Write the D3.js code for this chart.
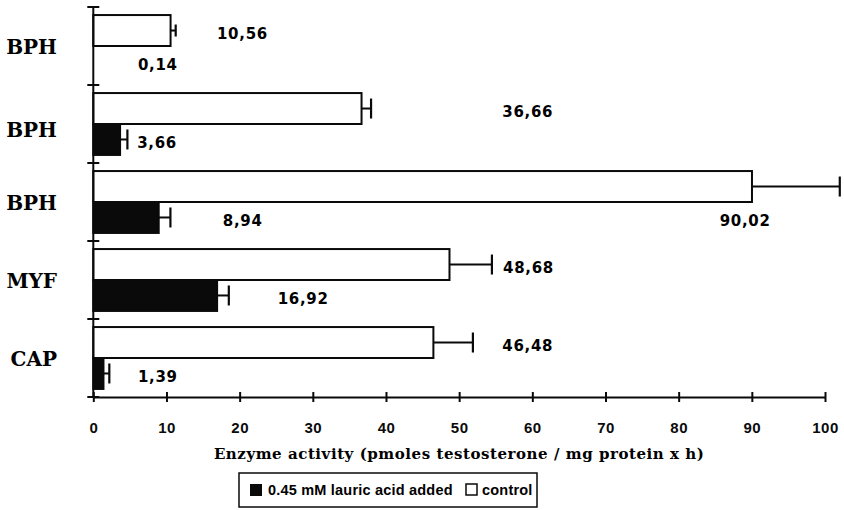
<!DOCTYPE html>
<html>
<head>
<meta charset="utf-8">
<script src="https://cdn.jsdelivr.net/npm/d3@7"></script>
<style>
  body { margin: 0; background: #fff; }
  svg { display: block; }
  .cat { font-family: "DejaVu Serif", serif; font-weight: bold; font-size: 20px; }
  .val { font-family: "DejaVu Sans", sans-serif; font-weight: bold; font-size: 15px; letter-spacing: 0.7px; }
  .tick-label { font-family: "Liberation Sans", Arial, sans-serif; font-weight: bold; font-size: 15px; letter-spacing: 0.5px; }
  .title { font-family: "DejaVu Serif", serif; font-weight: bold; font-size: 15px; letter-spacing: 0.55px; }
  .legend { font-family: "Liberation Sans", Arial, sans-serif; font-weight: bold; font-size: 14.5px; letter-spacing: 0.2px; }
</style>
</head>
<body>
<div id="chart"></div>
<script>
// values
const categories = ['BPH', 'BPH', 'BPH', 'MYF', 'CAP'];
const control = [10.56, 36.66, 90.02, 48.68, 46.48];
const controlErr = [0.7, 1.3, 12.0, 5.8, 5.4];
const lauric = [0.14, 3.66, 8.94, 16.92, 1.39];
const lauricErr = [0, 1.0, 1.6, 1.6, 0.8];
const controlLabels = ['10,56', '36,66', '90,02', '48,68', '46,48'];
const lauricLabels = ['0,14', '3,66', '8,94', '16,92', '1,39'];
const xTicks = [0, 10, 20, 30, 40, 50, 60, 70, 80, 90, 100];

// where the printed numbers sit (axis units, row they sit in)
const controlLabelAt = [16.9, 55.9, 85.6, 56.0, 55.9];
const controlLabelRow = ['control', 'control', 'lauric', 'control', 'control'];
const lauricLabelAt = [6.1, 6.0, 17.7, 25.2, 6.1];

const width = 844, height = 510;
const plotLeft = 93.3, plotRight = 825, plotTop = 7, plotBottom = 397;

const svg = d3.select('#chart').append('svg')
  .attr('width', width)
  .attr('height', height);

const x = d3.scaleLinear().domain([0, 100]).range([plotLeft, plotRight]);
const y = d3.scaleBand().domain(d3.range(categories.length)).range([plotTop, plotBottom]);
const inner = d3.scaleBand()
  .domain(['control', 'lauric'])
  .range([0, y.bandwidth()])
  .paddingOuter(0.26);

const rows = categories.map((c, i) => ({
  i, c,
  control: control[i], controlErr: controlErr[i],
  lauric: lauric[i], lauricErr: lauricErr[i]
}));

// bars
const bars = [];
rows.forEach(r => {
  bars.push({ i: r.i, key: 'control', v: r.control, e: r.controlErr });
  bars.push({ i: r.i, key: 'lauric', v: r.lauric, e: r.lauricErr });
});

const by = d => y(d.i) + inner(d.key);
const bh = inner.bandwidth();

svg.append('g').selectAll('rect')
  .data(bars.filter(d => x(d.v) - x(0) > 2))
  .enter().append('rect')
  .attr('x', x(0))
  .attr('y', by)
  .attr('width', d => x(d.v) - x(0))
  .attr('height', bh)
  .attr('fill', d => d.key === 'control' ? '#fff' : '#0a0a0a')
  .attr('stroke', '#0a0a0a')
  .attr('stroke-width', 2);

// error bars
const err = svg.append('g')
  .selectAll('g')
  .data(bars.filter(d => d.e > 0))
  .enter().append('g');

err.append('line')
  .attr('x1', d => x(d.v))
  .attr('x2', d => x(d.v + d.e))
  .attr('y1', d => by(d) + bh / 2)
  .attr('y2', d => by(d) + bh / 2)
  .attr('stroke', '#0a0a0a')
  .attr('stroke-width', 2);

err.append('line')
  .attr('x1', d => x(d.v + d.e))
  .attr('x2', d => x(d.v + d.e))
  .attr('y1', d => by(d) + bh / 2 - (d.i === 0 ? 6 : 10))
  .attr('y2', d => by(d) + bh / 2 + (d.i === 0 ? 6 : 10))
  .attr('stroke', '#0a0a0a')
  .attr('stroke-width', 2.2);

// value labels
const labels = [];
rows.forEach(r => {
  labels.push({ i: r.i, key: controlLabelRow[r.i], at: controlLabelAt[r.i], text: controlLabels[r.i] });
  labels.push({ i: r.i, key: 'lauric', at: lauricLabelAt[r.i], text: lauricLabels[r.i] });
});

svg.append('g').selectAll('text')
  .data(labels)
  .enter().append('text')
  .attr('class', 'val')
  .attr('x', d => x(d.at))
  .attr('y', d => by(d) + bh / 2 + 3)
  .attr('dy', '0.36em')
  .text(d => d.text);

// y axis
const yAxis = svg.append('g');
yAxis.append('line')
  .attr('x1', x(0)).attr('x2', x(0))
  .attr('y1', plotTop).attr('y2', plotBottom)
  .attr('stroke', '#0a0a0a').attr('stroke-width', 2);
yAxis.selectAll('.ytick')
  .data(d3.range(categories.length + 1))
  .enter().append('line')
  .attr('x1', x(0) - 6).attr('x2', x(0) + 6)
  .attr('y1', i => i < categories.length ? y(i) : plotBottom)
  .attr('y2', i => i < categories.length ? y(i) : plotBottom)
  .attr('stroke', '#0a0a0a').attr('stroke-width', 2);

svg.append('g').selectAll('text')
  .data(rows)
  .enter().append('text')
  .attr('class', 'cat')
  .attr('x', 57)
  .attr('y', d => y(d.i) + y.bandwidth() / 2 + (d.i === 1 ? 6 : 1))
  .attr('dy', '0.36em')
  .attr('text-anchor', 'end')
  .text(d => d.c);

// x axis
const xAxis = svg.append('g')
  .attr('transform', `translate(0,${plotBottom})`)
  .call(d3.axisBottom(x).tickValues(xTicks).tickSize(0).tickPadding(0).tickFormat(''));
xAxis.select('.domain').attr('stroke', '#0a0a0a').attr('stroke-width', 2);
xAxis.selectAll('.tick line')
  .attr('y1', -5).attr('y2', 5)
  .attr('stroke', '#0a0a0a').attr('stroke-width', 2);
xAxis.selectAll('.tick').append('text')
  .attr('class', 'tick-label')
  .attr('y', 36)
  .attr('fill', '#0a0a0a')
  .attr('text-anchor', 'middle')
  .text(d => d);

svg.append('text')
  .attr('class', 'title')
  .attr('x', (plotLeft + plotRight) / 2)
  .attr('y', 459)
  .attr('text-anchor', 'middle')
  .text('Enzyme activity (pmoles testosterone / mg protein x h)');

// legend
const lg = svg.append('g').attr('transform', 'translate(239,473)');
lg.append('rect')
  .attr('width', 298).attr('height', 34)
  .attr('fill', '#fff').attr('stroke', '#0a0a0a').attr('stroke-width', 1.5);
lg.append('rect')
  .attr('x', 11).attr('y', 11).attr('width', 12).attr('height', 12)
  .attr('fill', '#0a0a0a');
lg.append('text')
  .attr('class', 'legend')
  .attr('x', 29).attr('y', 17).attr('dy', '0.36em')
  .text('0.45 mM lauric acid added');
lg.append('rect')
  .attr('x', 227).attr('y', 11).attr('width', 11).attr('height', 11)
  .attr('fill', '#fff').attr('stroke', '#0a0a0a').attr('stroke-width', 1.5);
lg.append('text')
  .attr('class', 'legend')
  .attr('x', 243).attr('y', 17).attr('dy', '0.36em')
  .text('control');
</script>
</body>
</html>
